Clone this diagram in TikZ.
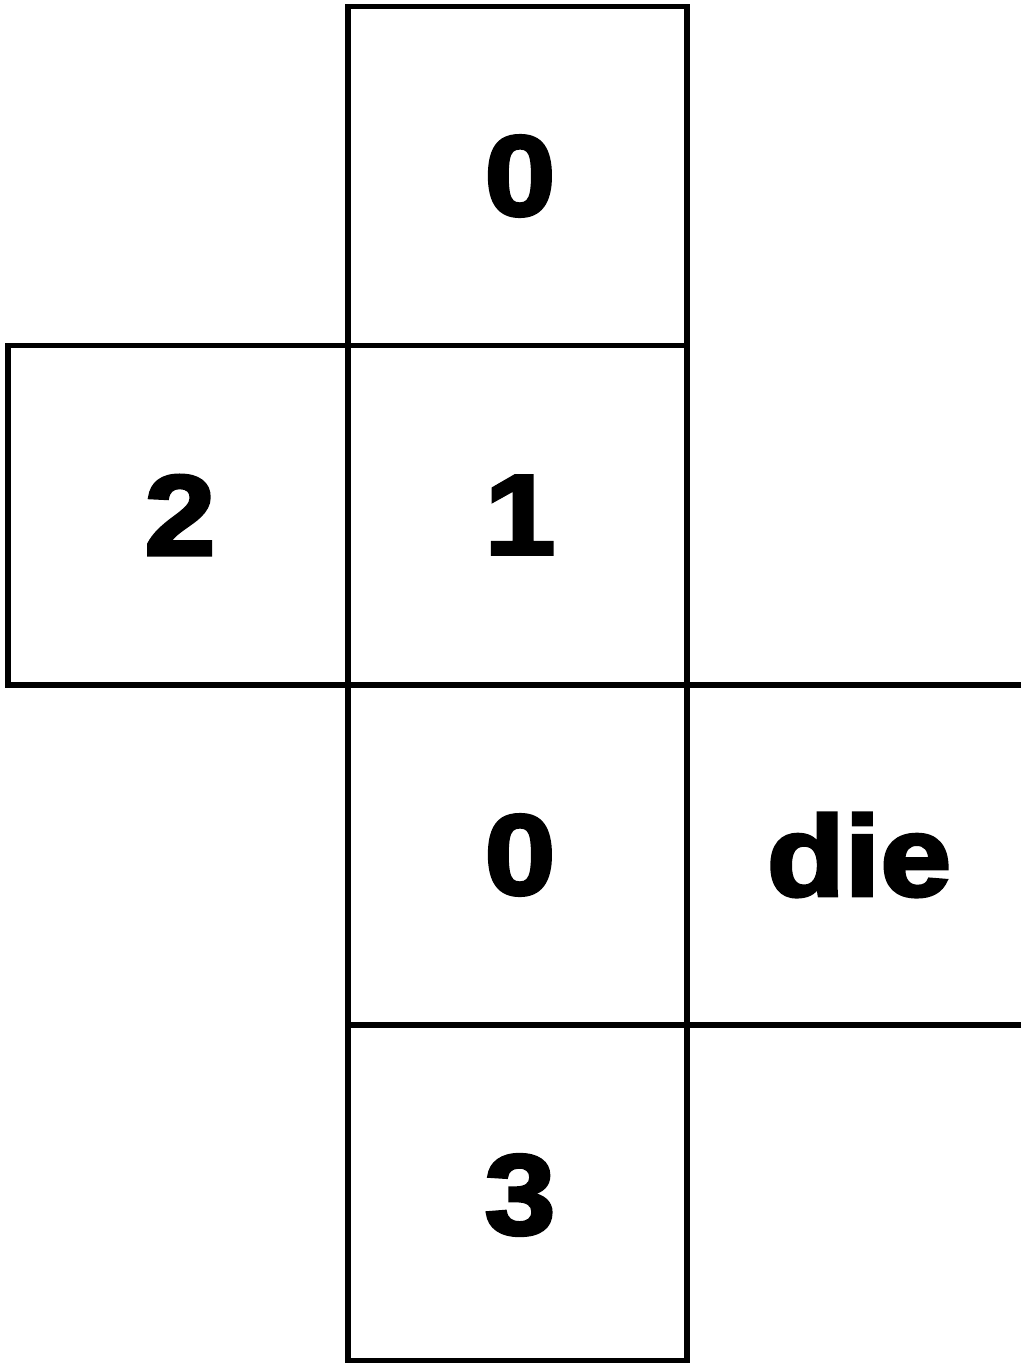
\documentclass[tikz,border=0pt]{standalone}
\usepackage{fontspec}
\newfontfamily\dief[FakeBold=3,FakeStretch=1.12]{Liberation Sans Bold}
\begin{document}
\begin{tikzpicture}[x=0.5pt,y=-0.5pt,
  cell/.style={draw=black,line width=2.9pt,line join=miter},
  lbl/.style={inner sep=0pt,font=\dief\fontsize{57}{57}\selectfont}]
\useasboundingbox (0,0) rectangle (1021,1363);
\draw[cell] (348,6.5) rectangle (687,345.5);
\draw[cell] (8,345.5) rectangle (348,685);
\draw[cell] (348,345.5) rectangle (687,685);
\draw[cell] (348,685) rectangle (687,1025);
\draw[cell] (348,1025) rectangle (687,1361);
\draw[cell] (687,685) -- (1021,685);
\draw[cell] (687,1025) -- (1021,1025);
\node[lbl] (n0a) at (520,176) {0};
\node[lbl] (n2) at (180,515) {2};
\node[lbl] (n1) at (520,515) {1};
\node[lbl] (n0b) at (520,855) {0};
\node[lbl] (ndie) at (859,855) {die};
\node[lbl] (n3) at (520,1195) {3};
\end{tikzpicture}
\end{document}
